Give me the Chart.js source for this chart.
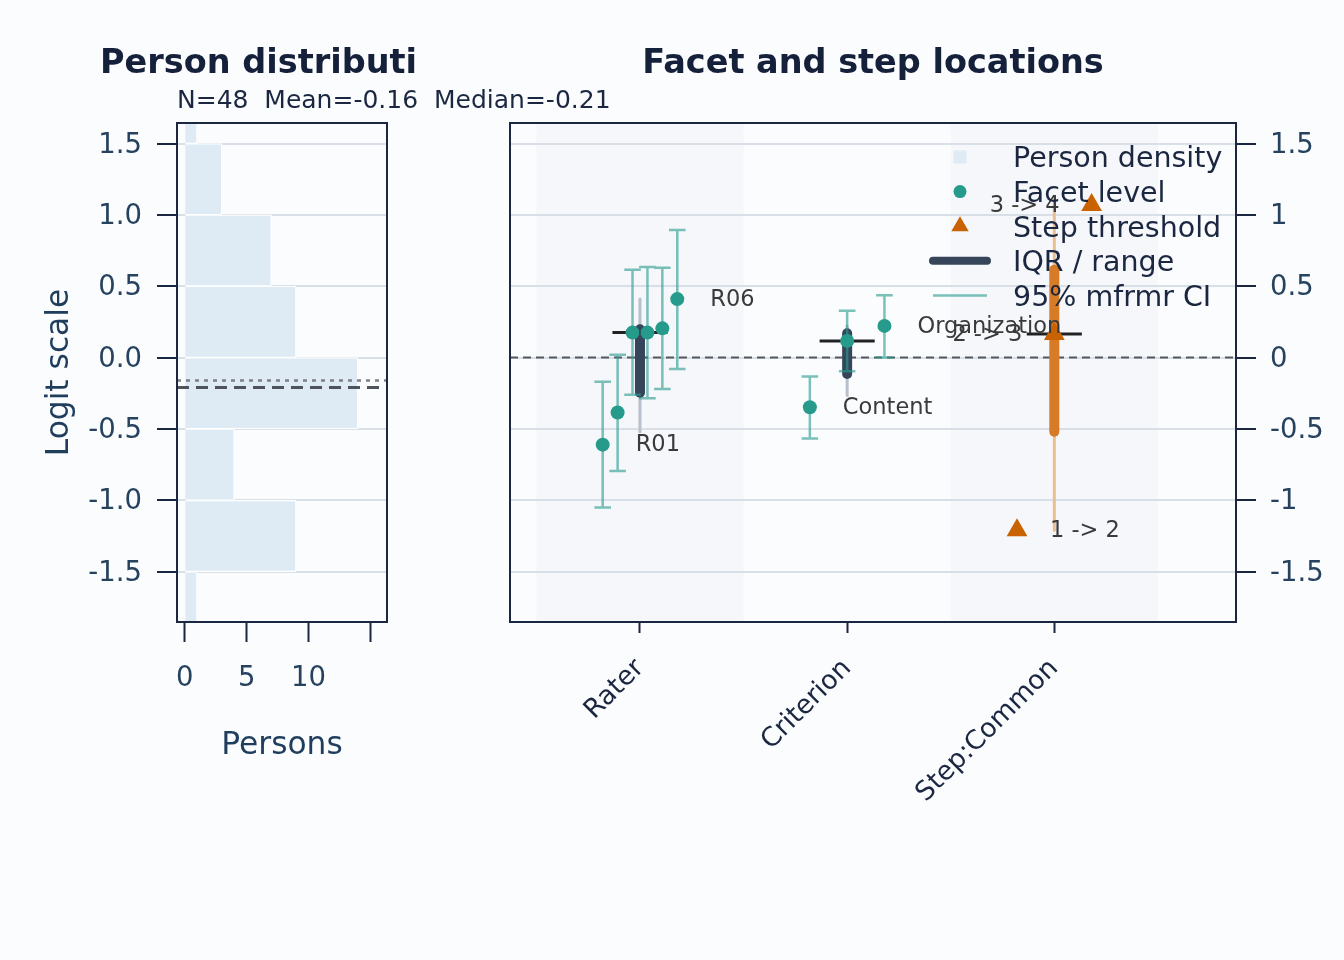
<!DOCTYPE html>
<html>
<head>
<meta charset="utf-8">
<script src="https://cdn.jsdelivr.net/npm/chart.js@4.4.1/dist/chart.umd.min.js"></script>
<style>
  html, body { margin: 0; padding: 0; background: #fbfcfe; }
  #wrap { position: relative; width: 1344px; height: 960px; overflow: hidden; }
  canvas { position: absolute; top: 0; }
  #personChart { left: 0; }
  #facetChart { left: 440px; }
</style>
</head>
<body>
<div id="wrap">
  <canvas id="personChart" width="620" height="960"></canvas>
  <canvas id="facetChart" width="904" height="960"></canvas>
</div>
<script>
// ---- person distribution (histogram, 0.5 logit bins) ----
const personBinMids = [-1.75, -1.25, -0.75, -0.25, 0.25, 0.75, 1.25, 1.75];
const personCounts = [1, 9, 4, 14, 9, 7, 3, 1];
const personMean = -0.16;
const personMedian = -0.21;
const countTicks = [0, 5, 10, 15];
const countTickLabels = ["0", "5", "10", ""];

// ---- shared logit axis ----
const logitMin = -1.853;
const logitMax = 1.644;
const logitTicks = [-1.5, -1, -0.5, 0, 0.5, 1, 1.5];
const leftLogitLabels = ["-1.5", "-1.0", "-0.5", "0.0", "0.5", "1.0", "1.5"];
const rightLogitLabels = ["-1.5", "-1", "-0.5", "0", "0.5", "1", "1.5"];

// ---- facet / step locations ----
const facetGroups = ["Rater", "Criterion", "Step:Common"];

const raterNames = ["R01", "R02", "R03", "R04", "R05", "R06"];
const raterMeasures = [-0.61, -0.385, 0.175, 0.175, 0.205, 0.41];
const raterCiLow = [-1.05, -0.795, -0.26, -0.285, -0.22, -0.08];
const raterCiHigh = [-0.17, 0.02, 0.615, 0.635, 0.63, 0.895];

const criterionNames = ["Content", "Language", "Organization"];
const criterionMeasures = [-0.348, 0.117, 0.222];
const criterionCiLow = [-0.567, -0.096, 0.0];
const criterionCiHigh = [-0.133, 0.329, 0.436];

const stepNames = ["1 -> 2", "2 -> 3", "3 -> 4"];
const stepThresholds = [-1.21, 0.165, 1.07];

// per group: median, IQR and range
const groupMedian = [0.175, 0.117, 0.165];
const groupQ1 = [-0.246, -0.115, -0.52];
const groupQ3 = [0.198, 0.17, 0.615];
const groupLow = [-0.52, -0.265, -1.21];
const groupHigh = [0.41, 0.222, 1.09];

const legendLabels = ["Person density", "Facet level", "Step threshold", "IQR / range", "95% mfrmr CI"];

Chart.defaults.font.family = '"DejaVu Sans", sans-serif';

const navy = "#1b2741";
const tickText = "#26425f";
const gridCol = "#d9dfe6";
const histFill = "#deebf4";
const teal = "#269b8c";
const tealCi = "rgba(42, 157, 143, 0.62)";
const orange = "#c96200";

function boxAround(chart) {
    const { ctx, chartArea: a } = chart;
    ctx.save();
    ctx.strokeStyle = navy;
    ctx.lineWidth = 2;
    ctx.strokeRect(a.left, a.top, a.right - a.left, a.bottom - a.top);
    ctx.restore();
}

function hLine(chart, value, color, width, dash) {
    const { ctx, chartArea: a, scales: { y } } = chart;
    const py = y.getPixelForValue(value);
    ctx.save();
    ctx.strokeStyle = color;
    ctx.lineWidth = width;
    ctx.setLineDash(dash);
    ctx.beginPath();
    ctx.moveTo(a.left, py);
    ctx.lineTo(a.right, py);
    ctx.stroke();
    ctx.restore();
}

// ---------------- left panel ----------------
const personDecor = {
    id: "personDecor",
    afterDatasetsDraw(chart) {
        hLine(chart, personMean, "#7d8085", 2.5, [4, 5]);
        hLine(chart, personMedian, "#4f545c", 3, [12, 7]);
        boxAround(chart);

        const { ctx, chartArea: a } = chart;
        const n = personCounts.reduce((s, v) => s + v, 0);
        ctx.save();
        ctx.fillStyle = "#15203a";
        ctx.font = 'bold 33.5px "DejaVu Sans"';
        ctx.textAlign = "left";
        ctx.textBaseline = "alphabetic";
        ctx.fillText("Person distributi", 100, 73);
        ctx.fillStyle = navy;
        ctx.font = '25px "DejaVu Sans"';
        ctx.fillText(`N=${n}  Mean=${personMean.toFixed(2)}  Median=${personMedian.toFixed(2)}`, a.left, 108);
        ctx.restore();
    }
};

new Chart(document.getElementById("personChart"), {
    type: "bar",
    data: {
        datasets: [{
            data: personBinMids.map((m, i) => ({ x: personCounts[i], y: m })),
            backgroundColor: histFill,
            borderColor: "#ffffff",
            borderWidth: 1.2,
            barPercentage: 1,
            categoryPercentage: 1
        }]
    },
    options: {
        indexAxis: "y",
        responsive: false,
        animation: false,
        events: [],
        layout: { padding: { left: 0, top: 123, right: 233, bottom: 0 } },
        plugins: { legend: { display: false }, tooltip: { enabled: false } },
        scales: {
            y: {
                type: "linear",
                min: logitMin,
                max: logitMax,
                offset: false,
                afterBuildTicks: s => { s.ticks = logitTicks.map(v => ({ value: v })); },
                afterFit: s => { s.width = 177; },
                ticks: {
                    callback: v => leftLogitLabels[logitTicks.indexOf(v)],
                    color: tickText,
                    font: { size: 27.5 },
                    padding: 15,
                    labelOffset: 2
                },
                grid: { color: gridCol, lineWidth: 2, tickColor: navy, tickLength: 20, tickWidth: 2, offset: false },
                border: { color: navy, width: 2 },
                title: { display: true, text: "Logit scale", color: "#1f3d5c", font: { size: 31.3 }, padding: { top: 41, bottom: 0 } }
            },
            x: {
                type: "linear",
                min: -0.63,
                max: 16.35,
                offset: false,
                afterBuildTicks: s => { s.ticks = countTicks.map(v => ({ value: v })); },
                afterFit: s => { s.height = 338; },
                ticks: {
                    callback: v => countTickLabels[countTicks.indexOf(v)],
                    autoSkip: false,
                    maxRotation: 0,
                    color: tickText,
                    font: { size: 27.5 },
                    padding: 20
                },
                grid: { drawOnChartArea: false, tickColor: navy, tickLength: 20, tickWidth: 2, offset: false },
                border: { color: navy, width: 2 },
                title: { display: true, text: "Persons", color: "#1f3d5c", font: { size: 31.3 }, padding: { top: 0, bottom: 195 } }
            }
        }
    },
    plugins: [personDecor]
});

// ---------------- right panel ----------------
const jitter = (j, n) => (n === 1 ? 0 : -0.18 + 0.36 * j / (n - 1));

const facetSets = [
    { names: raterNames, values: raterMeasures, lo: raterCiLow, hi: raterCiHigh },
    { names: criterionNames, values: criterionMeasures, lo: criterionCiLow, hi: criterionCiHigh }
];

const datasets = [];

facetGroups.forEach((g, i) => {
    const isStep = i === 2;
    datasets.push({
        type: "line",
        data: [{ x: i + 1, y: groupLow[i] }, { x: i + 1, y: groupHigh[i] }],
        borderColor: isStep ? "#ebbd92" : "#b8c0cc",
        borderWidth: 3,
        borderCapStyle: "round",
        pointRadius: 0,
        order: 10
    });
    datasets.push({
        type: "line",
        data: [{ x: i + 1, y: groupQ1[i] }, { x: i + 1, y: groupQ3[i] }],
        borderColor: isStep ? "#d77b27" : "#36455a",
        borderWidth: 10,
        borderCapStyle: "round",
        pointRadius: 0,
        order: 9
    });
    datasets.push({
        type: "line",
        data: [{ x: i + 0.867, y: groupMedian[i] }, { x: i + 1.133, y: groupMedian[i] }],
        borderColor: "#222222",
        borderWidth: 3,
        pointRadius: 0,
        order: 8
    });
});

// confidence intervals with caps, gaps between segments
const ciPoints = [];
const facetPoints = [];
facetSets.forEach((set, g) => {
    set.values.forEach((v, j) => {
        const px = g + 1 + jitter(j, set.values.length);
        ciPoints.push({ x: px, y: set.lo[j] }, { x: px, y: set.hi[j] }, { x: px, y: null });
        ciPoints.push({ x: px - 0.04, y: set.hi[j] }, { x: px + 0.04, y: set.hi[j] }, { x: px, y: null });
        ciPoints.push({ x: px - 0.04, y: set.lo[j] }, { x: px + 0.04, y: set.lo[j] }, { x: px, y: null });
        facetPoints.push({ x: px, y: v });
    });
});

datasets.push({
    type: "line",
    data: ciPoints,
    borderColor: tealCi,
    borderWidth: 2.5,
    pointRadius: 0,
    spanGaps: false,
    order: 7
});
datasets.push({
    type: "scatter",
    data: facetPoints,
    backgroundColor: teal,
    borderWidth: 0,
    pointRadius: 7,
    order: 6
});
datasets.push({
    type: "scatter",
    data: stepThresholds.map((v, j) => ({ x: 3 + jitter(j, stepThresholds.length), y: v })),
    backgroundColor: orange,
    borderWidth: 0,
    pointStyle: "triangle",
    pointRadius: 12,
    order: 5
});

function drawLegend(chart) {
    const { ctx, chartArea: a } = chart;
    const sx = a.right - 276;
    const tx = a.right - 223;
    ctx.save();
    legendLabels.forEach((label, i) => {
        const yy = a.top + 34 + i * 34.6;
        if (i === 0) {
            ctx.fillStyle = histFill;
            ctx.fillRect(sx - 6.5, yy - 6.5, 13, 13);
        } else if (i === 1) {
            ctx.fillStyle = teal;
            ctx.beginPath();
            ctx.arc(sx, yy, 6.5, 0, Math.PI * 2);
            ctx.fill();
        } else if (i === 2) {
            ctx.fillStyle = orange;
            ctx.beginPath();
            ctx.moveTo(sx, yy - 10);
            ctx.lineTo(sx + 8.7, yy + 5);
            ctx.lineTo(sx - 8.7, yy + 5);
            ctx.closePath();
            ctx.fill();
        } else {
            ctx.strokeStyle = i === 3 ? "#36455a" : tealCi;
            ctx.lineWidth = i === 3 ? 8 : 2.5;
            ctx.lineCap = i === 3 ? "round" : "butt";
            ctx.beginPath();
            ctx.moveTo(sx - 27, yy);
            ctx.lineTo(sx + 27, yy);
            ctx.stroke();
        }
        ctx.fillStyle = navy;
        ctx.font = '28.5px "DejaVu Sans"';
        ctx.textAlign = "left";
        ctx.textBaseline = "middle";
        ctx.fillText(label, tx, yy + 3);
    });
    ctx.restore();
}

const facetDecor = {
    id: "facetDecor",
    beforeDraw(chart) {
        const { ctx, chartArea: a, scales: { x } } = chart;
        ctx.save();
        ctx.fillStyle = "#f5f7fa";
        facetGroups.forEach((g, i) => {
            if (i % 2 !== 0) return;
            const l = x.getPixelForValue(i + 0.5);
            const r = x.getPixelForValue(i + 1.5);
            ctx.fillRect(l, a.top, r - l, a.bottom - a.top);
        });
        ctx.restore();
    },
    beforeDatasetsDraw(chart) {
        hLine(chart, 0, "#55585e", 2, [8, 5]);
    },
    afterDatasetsDraw(chart) {
        const { ctx, chartArea: a, scales: { x, y } } = chart;
        ctx.save();
        ctx.font = '22.5px "DejaVu Sans"';
        ctx.fillStyle = "#3a3a3a";
        ctx.textBaseline = "middle";
        // facet labels at lowest and highest level in each group
        facetSets.forEach((set, g) => {
            const vals = set.values;
            const lowIdx = vals.indexOf(Math.min(...vals));
            const highIdx = vals.lastIndexOf(Math.max(...vals));
            [lowIdx, highIdx].forEach(j => {
                const px = x.getPixelForValue(g + 1 + jitter(j, vals.length));
                ctx.textAlign = "left";
                ctx.fillText(set.names[j], px + 33, y.getPixelForValue(vals[j]) + 1);
            });
        });
        stepThresholds.forEach((v, j) => {
            const px = x.getPixelForValue(3 + jitter(j, stepThresholds.length));
            const right = j === 0;
            ctx.textAlign = right ? "left" : "right";
            ctx.fillText(stepNames[j], right ? px + 33 : px - 32, y.getPixelForValue(v) + 1);
        });
        ctx.restore();

        drawLegend(chart);
        boxAround(chart);

        ctx.save();
        ctx.fillStyle = "#15203a";
        ctx.font = 'bold 33.5px "DejaVu Sans"';
        ctx.textAlign = "center";
        ctx.textBaseline = "alphabetic";
        ctx.fillText("Facet and step locations", (a.left + a.right) / 2, 73);
        ctx.restore();
    }
};

new Chart(document.getElementById("facetChart"), {
    type: "line",
    data: { datasets: datasets },
    options: {
        responsive: false,
        animation: false,
        events: [],
        layout: { padding: { left: 70, top: 123, right: 0, bottom: 0 } },
        plugins: { legend: { display: false }, tooltip: { enabled: false } },
        scales: {
            x: {
                type: "linear",
                min: 0.3726,
                max: 3.877,
                offset: false,
                afterBuildTicks: s => { s.ticks = facetGroups.map((g, i) => ({ value: i + 1 })); },
                afterFit: s => { s.height = 338; },
                ticks: {
                    callback: v => facetGroups[v - 1],
                    autoSkip: false,
                    minRotation: 45,
                    maxRotation: 45,
                    color: navy,
                    font: { size: 26.5 },
                    padding: 20
                },
                grid: { drawOnChartArea: false, tickColor: navy, tickLength: 11, tickWidth: 2, offset: false },
                border: { color: navy, width: 2 }
            },
            y: {
                type: "linear",
                position: "right",
                min: logitMin,
                max: logitMax,
                offset: false,
                afterBuildTicks: s => { s.ticks = logitTicks.map(v => ({ value: v })); },
                afterFit: s => { s.width = 108; },
                ticks: {
                    callback: v => rightLogitLabels[logitTicks.indexOf(v)],
                    color: tickText,
                    font: { size: 27.5 },
                    padding: 14,
                    labelOffset: 2
                },
                grid: { color: gridCol, lineWidth: 2, tickColor: navy, tickLength: 20, tickWidth: 2, offset: false },
                border: { color: navy, width: 2 }
            }
        }
    },
    plugins: [facetDecor]
});
</script>
</body>
</html>
